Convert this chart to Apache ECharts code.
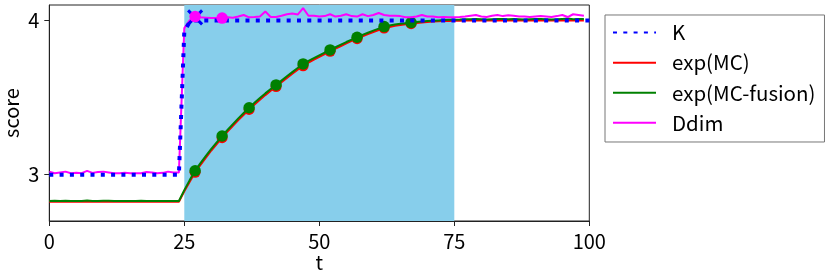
<!DOCTYPE html>
<html><head><meta charset="utf-8">
<script src="https://cdn.jsdelivr.net/npm/echarts@6/dist/echarts.min.js"></script>
<style>html,body{margin:0;padding:0;background:#fff}#c{width:830px;height:277px}</style>
</head><body><div id="c"></div>
<script>
const seriesNames = ['K', 'exp(MC)', 'exp(MC-fusion)', 'Ddim'];
const xTicks = [0, 25, 50, 75, 100];
const yTicks = [3, 4];
const shadeRange = [25, 75];

const kValues = [
3.0,3.0,3.0,3.0,3.0,3.0,3.0,3.0,3.0,3.0,3.0,3.0,3.0,3.0,3.0,3.0,3.0,3.0,3.0,3.0,3.0,3.0,3.0,3.0,3.0,
3.93,3.99,
4.0,4.0,4.0,4.0,4.0,4.0,4.0,4.0,4.0,4.0,4.0,4.0,4.0,4.0,4.0,4.0,4.0,4.0,4.0,4.0,4.0,4.0,4.0,4.0,4.0,4.0,4.0,
4.0,4.0,4.0,4.0,4.0,4.0,4.0,4.0,4.0,4.0,4.0,4.0,4.0,4.0,4.0,4.0,4.0,4.0,4.0,4.0,4.0,4.0,4.0,4.0,4.0,4.0,4.0,
4.0,4.0,4.0,4.0,4.0,4.0,4.0,4.0,4.0,4.0,4.0,4.0,4.0,4.0,4.0,4.0,4.0,4.0,4.0,4.0,4.0,4.0,4.0,4.0,4.0
];

const expMCValues = [
2.825,2.825,2.825,2.825,2.825,2.825,2.825,2.825,2.825,2.825,2.825,2.825,2.825,2.825,2.825,2.825,2.825,2.825,2.825,2.825,2.825,2.825,2.825,2.825,2.825,
2.893,2.955,3.016,3.064,3.111,3.157,3.199,3.24,3.279,3.317,3.354,3.389,3.423,3.455,3.486,3.516,3.544,3.571,3.599,3.627,3.654,3.681,3.706,
3.727,3.746,3.764,3.782,3.8,3.817,3.834,3.851,3.867,3.882,3.897,3.911,3.925,3.938,3.951,3.958,3.965,3.97,3.975,3.979,3.983,3.987,3.99,3.993,
3.995,3.996,3.997,3.998,3.998,3.999,3.999,3.999,4.0,3.999,3.999,4.0,3.999,3.999,4.0,3.999,3.999,4.0,4.0,3.999,3.999,4.0,4.0,3.999,4.0,4.0,3.999,4.0
];

const expMCFusionValues = [
2.83,2.832,2.83,2.831,2.83,2.83,2.829,2.833,2.83,2.83,2.832,2.831,2.83,2.83,2.83,2.83,2.83,2.831,2.83,2.83,2.83,2.83,2.83,2.83,2.83,
2.9,2.965,3.026,3.075,3.122,3.168,3.21,3.251,3.29,3.328,3.365,3.4,3.434,3.466,3.497,3.527,3.555,3.582,3.61,3.638,3.665,3.692,3.718,
3.738,3.756,3.774,3.792,3.809,3.826,3.843,3.86,3.876,3.891,3.906,3.92,3.934,3.947,3.96,3.967,3.973,3.978,3.982,3.986,3.99,3.993,3.996,3.998,
4.0,4.002,4.004,4.005,4.006,4.008,4.008,4.01,4.008,4.006,4.008,4.01,4.009,4.008,4.01,4.008,4.006,4.008,4.01,4.01,4.008,4.006,4.008,4.01,4.012,4.008,4.01,4.01
];

const ddimValues = [
3.02,3.01,3.015,3.02,3.01,3.012,3.01,3.025,3.012,3.018,3.02,3.015,3.01,3.01,3.012,3.01,3.01,3.01,3.018,3.015,3.01,3.012,3.02,3.015,3.015,
3.95,4.0,4.025,4.02,4.018,4.016,4.016,4.015,4.02,4.018,4.025,4.035,4.02,4.022,4.025,4.058,4.022,4.022,4.03,4.04,4.045,4.038,4.08,4.03,4.03,
4.025,4.028,4.04,4.025,4.03,4.04,4.028,4.025,4.04,4.028,4.035,4.048,4.035,4.03,4.03,4.028,4.02,4.02,4.025,4.035,4.025,4.025,4.02,4.022,4.02,
4.02,4.022,4.025,4.03,4.035,4.025,4.022,4.03,4.035,4.028,4.033,4.03,4.025,4.025,4.022,4.025,4.028,4.025,4.022,4.028,4.035,4.022,4.04,4.035,4.03
];

const markerT = [27, 32, 37, 42, 47, 52, 57, 62, 67];
const ddimMarkerT = [27, 32];
const kMarkerT = [27];
const kMarkerV = [4.02];

const FONT = '"Noto Sans CJK JP", "Noto Sans", sans-serif';
const pairs = arr => arr.map((v, i) => [i, v]);
const pick = (arr, ts) => ts.map(t => [t, arr[t]]);

const chart = echarts.init(document.getElementById('c'), null, {renderer: 'canvas'});
chart.setOption({
  animation: false,
  backgroundColor: '#fff',
  textStyle: {fontFamily: FONT},
  grid: {left: 49.3, right: 240.7, top: 5, bottom: 56, show: true, borderColor: '#222', borderWidth: 1,
         backgroundColor: 'transparent', containLabel: false, outerBoundsMode: 'none'},
  legend: {
    data: seriesNames,
    orient: 'vertical',
    left: 605, top: 15,
    padding: [7.3, 9, 8.9, 7],
    itemWidth: 43, itemHeight: 20, itemGap: 9.6,
    itemStyle: {opacity: 0},
    borderColor: '#777', borderWidth: 1, borderRadius: 0,
    textStyle: {fontSize: 20.5, color: '#000', fontFamily: FONT, lineHeight: 20, padding: [0, 0, 0, 11]}
  },
  xAxis: {
    type: 'value', min: xTicks[0], max: xTicks[xTicks.length - 1], interval: 25,
    name: 't', nameLocation: 'middle', nameGap: 31, nameMoveOverlap: false,
    nameTextStyle: {fontSize: 20, color: '#000', fontFamily: FONT},
    axisLine: {show: true, lineStyle: {color: '#222', width: 1}},
    axisTick: {show: true, length: 5, lineStyle: {color: '#222'}},
    axisLabel: {fontSize: 20, color: '#000', margin: 10, fontFamily: FONT},
    splitLine: {show: false}
  },
  yAxis: {
    type: 'value', min: 2.70, max: 4.10,
    name: 'score', nameLocation: 'middle', nameGap: 28, nameMoveOverlap: false,
    nameTextStyle: {fontSize: 20, color: '#000', fontFamily: FONT},
    axisLine: {show: true, lineStyle: {color: '#222', width: 1}},
    axisTick: {show: true, length: 5, lineStyle: {color: '#222'}, customValues: yTicks},
    axisLabel: {fontSize: 20, color: '#000', margin: 10, fontFamily: FONT, customValues: yTicks},
    splitLine: {show: false}
  },
  series: [
    {
      name: 'shade', type: 'line', z: 1, silent: true, symbol: 'none',
      data: shadeRange.map(t => [t, 4.10]),
      lineStyle: {width: 0, opacity: 0},
      areaStyle: {color: '#87ceeb', opacity: 1, origin: 'start'}
    },
    {
      name: 'exp(MC)', type: 'line', z: 2, symbol: 'none', data: pairs(expMCValues),
      lineStyle: {color: '#ff0000', width: 2}, itemStyle: {color: '#ff0000'}
    },
    {
      name: 'mk_red', type: 'scatter', z: 3, symbol: 'circle', symbolSize: 11,
      data: pick(expMCValues, markerT), itemStyle: {color: '#ff0000', opacity: 1}
    },
    {
      name: 'exp(MC-fusion)', type: 'line', z: 4, symbol: 'none', data: pairs(expMCFusionValues),
      lineStyle: {color: '#008000', width: 2}, itemStyle: {color: '#008000'}
    },
    {
      name: 'mk_green', type: 'scatter', z: 5, symbol: 'circle', symbolSize: 11.5,
      data: pick(expMCFusionValues, markerT), itemStyle: {color: '#008000', opacity: 1}
    },
    {
      name: 'Ddim', type: 'line', z: 6, symbol: 'none', data: pairs(ddimValues),
      lineStyle: {color: '#ff00ff', width: 2}, itemStyle: {color: '#ff00ff'}
    },
    {
      name: 'K', type: 'line', z: 7, symbol: 'none', data: pairs(kValues),
      lineStyle: {color: '#0000ff', width: 4, type: [4, 6.3], cap: 'butt'}, itemStyle: {color: '#0000ff'}
    },
    {
      name: 'mk_k', type: 'scatter', z: 8, symbol: 'path://M0,0L10,10M10,0L0,10', symbolSize: 14,
      data: kMarkerT.map((t, i) => [t, kMarkerV[i]]),
      itemStyle: {color: 'rgba(0,0,0,0)', borderColor: '#0000ff', borderWidth: 3, opacity: 1}
    },
    {
      name: 'mk_ddim', type: 'scatter', z: 9, symbol: 'circle', symbolSize: 11.5,
      data: pick(ddimValues, ddimMarkerT), itemStyle: {color: '#ff00ff', opacity: 1}
    }
  ]
});
</script>
</body></html>
